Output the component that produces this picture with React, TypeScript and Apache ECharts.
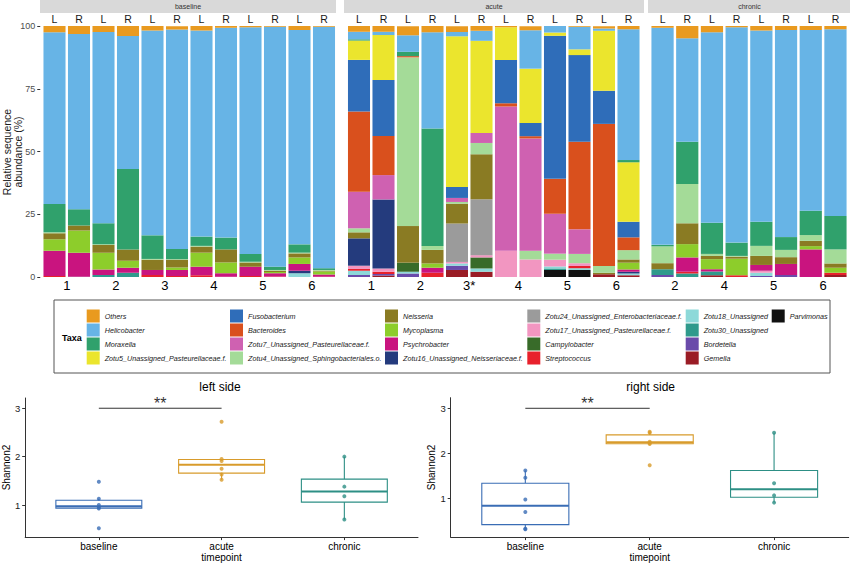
import React, { useEffect, useRef } from "react";
import * as echarts from "echarts";

// ---------------- DATA ----------------
const panelNames = ["baseline", "acute", "chronic"];
const baselineSamples = ["1L", "1R", "2L", "2R", "3L", "3R", "4L", "4R", "5L", "5R", "6L", "6R"];
const acuteSamples = ["1L", "1R", "2L", "2R", "3L", "3R", "4L", "4R", "5L", "5R", "6L", "6R"];
const chronicSamples = ["2L", "2R", "4L", "4R", "5L", "5R", "6L", "6R"];
const baselineSubjects = ["1", "2", "3", "4", "5", "6"];
const acuteSubjects = ["1", "2", "3*", "4", "5", "6"];
const chronicSubjects = ["2", "4", "5", "6"];
const abundanceTicks = [0, 25, 50, 75, 100];

const taxa = [
  "Others", "Helicobacter", "Moraxella", "Zotu5_Unassigned_Pasteurellaceae.f.",
  "Fusobacterium", "Bacteroides", "Zotu7_Unassigned_Pasteurellaceae.f.", "Zotu4_Unassigned_Sphingobacteriales.o.",
  "Neisseria", "Mycoplasma", "Psychrobacter", "Zotu16_Unassigned_Neisseriaceae.f.",
  "Zotu24_Unassigned_Enterobacteriaceae.f.", "Zotu17_Unassigned_Pasteurellaceae.f.", "Campylobacter", "Streptococcus",
  "Zotu18_Unassigned", "Zotu30_Unassigned", "Bordetella", "Gemella",
  "Parvimonas",
];
const taxaColors = [
  "#E99A1F", "#67B4E6", "#30A16C", "#EBE52D",
  "#2F6DB9", "#D9501D", "#CF61B1", "#A4DB98",
  "#8A7B23", "#8DCD2B", "#C9147F", "#243B7D",
  "#9B9B9B", "#F296C1", "#386B29", "#E8212C",
  "#8DD9D9", "#2F9A8C", "#6A4BAA", "#9A1C25",
  "#111111",
];

// per taxon: 12 baseline, 12 acute, 8 chronic samples (%)
const others = [2.5, 3.2, 2.4, 4.0, 1.8, 1.3, 1.8, 0.7, 0.5, 0.3, 1.6, 0.3, 2.3, 2.3, 3.6, 2.5, 2.3, 1.9, 0.5, 1.6, 0, 0.3, 0.9, 1.3, 0.7, 4.9, 2.5, 0.5, 1.8, 1.6, 1.6, 1.3];
const helicobacter = [68.4, 69.8, 76.2, 53.0, 81.6, 87.4, 82.1, 83.6, 90.3, 95.6, 85.4, 96.2, 3.0, 1.3, 6.6, 38.3, 1.7, 4.0, 0, 15.3, 2.6, 9.0, 0.9, 52.1, 86.5, 41.2, 75.9, 85.8, 76.2, 82.5, 72.0, 74.4];
const moraxella = [11.3, 6.5, 8.4, 32.0, 9.4, 4.1, 3.7, 4.7, 3.1, 1.3, 3.3, 0.7, 0.5, 0, 1.7, 46.8, 0, 0, 0, 0, 0, 0, 0, 0.9, 0.6, 16.8, 12.4, 5.3, 9.6, 5.1, 9.7, 13.3];
const zotu5 = [0, 0, 0, 0, 0, 0, 0, 0, 0, 0, 0, 0, 7.7, 17.9, 0, 0, 60.0, 36.7, 13.0, 21.6, 1.3, 2.3, 23.9, 23.7, 0, 0, 0, 0, 0, 0, 0, 0];
const fusobacterium = [0, 0, 0, 0, 0, 0, 0, 0, 0, 0, 0, 0, 20.6, 22.3, 0, 0, 4.4, 0, 17.3, 5.3, 57.0, 34.5, 13.2, 6.2, 0, 0, 0, 0, 0, 0, 0, 0];
const bacteroides = [0, 0, 0, 0, 0, 0, 0, 0, 0, 0, 0, 0, 31.9, 15.6, 0.5, 0, 0, 0, 1.3, 0.9, 13.9, 34.9, 56.6, 5.1, 0, 0, 0, 0, 0, 0, 0, 0];
const zotu7 = [0, 0, 0, 0, 0, 0, 0, 0, 0, 0, 0, 0, 14.6, 9.7, 0, 0, 1.6, 4.0, 57.4, 44.7, 15.9, 9.8, 0, 0, 0, 0, 0, 0, 0, 0, 0, 0];
const zotu4 = [0.4, 0, 0.3, 0, 0.3, 0.2, 0.3, 0, 0.3, 0.3, 0.3, 0.3, 1.6, 0, 67.2, 1.6, 0.7, 4.5, 0, 3.5, 2.4, 3.7, 2.7, 3.7, 6.7, 15.7, 0.8, 0.3, 4.0, 2.9, 2.3, 5.6];
const neisseria = [2.4, 2.0, 3.0, 4.5, 4.1, 3.1, 2.4, 5.2, 1.7, 0.5, 1.6, 0.3, 2.4, 0, 14.6, 5.4, 7.9, 17.9, 0, 0, 0, 0, 0.6, 1.3, 2.4, 8.3, 1.3, 0.8, 3.6, 2.7, 2.1, 1.7];
const mycoplasma = [4.5, 8.8, 6.7, 2.8, 0, 1.0, 5.6, 4.3, 0, 0.5, 2.6, 1.2, 0, 0, 0, 1.7, 0, 0, 0, 0, 0, 0, 0, 2.7, 0, 5.3, 4.0, 6.6, 0, 0, 1.3, 2.0];
const psychrobacter = [10.1, 9.6, 2.2, 2.0, 2.0, 2.4, 3.4, 1.4, 3.7, 1.3, 2.7, 0.9, 0, 0, 0, 2.0, 0, 0, 0, 0, 0, 0, 0, 0.9, 0, 5.7, 0.9, 0, 2.3, 4.4, 11.0, 0];
const zotu16 = [0, 0, 0, 0, 0, 0, 0, 0, 0, 0, 1.0, 0, 10.9, 27.5, 0, 0, 0, 0, 0, 0, 0, 0, 0, 0.7, 0, 0, 0, 0, 0, 0, 0, 0];
const zotu24 = [0, 0, 0, 0, 0, 0, 0, 0, 0, 0, 0, 0, 0, 0, 0, 0, 15.3, 22.3, 0, 0, 0, 0, 0, 0, 0, 0, 0, 0, 0, 0, 0, 0];
const zotu17 = [0, 0, 0, 0, 0, 0, 0, 0, 0, 0, 0, 0, 1.3, 1.3, 0, 0, 0.6, 0.9, 10.5, 7.0, 2.7, 1.1, 0, 0, 0, 0, 0, 0, 0.8, 0, 0, 0];
const campylobacter = [0, 0, 0, 0, 0, 0, 0, 0, 0, 0, 0, 0, 0, 0, 3.6, 0, 0, 4.4, 0, 0, 0, 0, 0, 0, 0, 0, 0, 0, 0, 0, 0, 0];
const streptococcus = [0.4, 0, 0, 0, 0.8, 0.4, 0.7, 0.1, 0.4, 0.2, 0, 0.1, 0.7, 0.9, 0, 1.7, 0, 0, 0, 0, 0, 0.9, 0, 0, 0, 0.7, 0, 0.7, 0, 0, 0, 0.9];
const zotu18 = [0, 0, 0, 0, 0, 0, 0, 0, 0, 0, 1.5, 0, 1.7, 0, 0.7, 0, 0.9, 1.3, 0, 0, 0.8, 0.7, 0, 0.7, 0, 0, 0, 0, 1.3, 0, 0, 0];
const zotu30 = [0, 0.1, 0.8, 1.7, 0, 0, 0, 0, 0, 0, 0, 0, 0, 0, 0, 0, 0, 0, 0, 0, 0.6, 0, 0, 0, 2.3, 1.4, 1.5, 0, 0, 0, 0, 0];
const bordetella = [0, 0, 0, 0, 0, 0, 0, 0, 0, 0, 0, 0, 0.8, 0.6, 1.4, 0, 1.7, 0, 0, 0, 0, 0, 0, 0, 0.8, 0, 0, 0, 0.4, 0.8, 0, 0];
const gemella = [0, 0, 0, 0, 0, 0, 0, 0, 0, 0, 0, 0, 0, 0.6, 0, 0, 2.8, 2.1, 0, 0, 0, 0, 1.1, 0.7, 0, 0, 0.7, 0, 0, 0, 0, 0.8];
const parvimonas = [0, 0, 0, 0, 0, 0, 0, 0, 0, 0, 0, 0, 0, 0, 0, 0, 0, 0, 0, 0, 2.8, 2.8, 0, 0, 0, 0, 0, 0, 0, 0, 0, 0];

const taxaValues = [
  others, helicobacter, moraxella, zotu5, fusobacterium, bacteroides, zotu7, zotu4,
  neisseria, mycoplasma, psychrobacter, zotu16, zotu24, zotu17, campylobacter, streptococcus,
  zotu18, zotu30, bordetella, gemella, parvimonas,
];

// Shannon diversity
const timepoints = ["baseline", "acute", "chronic"];
const timepointColors = ["#3A6DB5", "#D89B2B", "#2D8F85"];
const shannonTicks = [1, 2, 3];
const leftBaseline = [0.52, 0.93, 0.95, 1.0, 1.13, 1.48];
const leftAcute = [1.52, 1.63, 1.75, 1.91, 1.95, 2.72];
const leftChronic = [0.7, 1.18, 1.38, 2.0];
const rightBaseline = [0.32, 0.33, 0.7, 0.98, 1.46, 1.62];
const rightAcute = [1.74, 2.21, 2.23, 2.26, 2.46, 2.48];
const rightChronic = [0.91, 1.07, 1.34, 2.46];
const significance = [1, 2, 3]; // from, to, height
const significanceLabel = "**";

// ---------------- HELPERS ----------------
const FONT = "'Liberation Sans', Arial, Helvetica, sans-serif";

function quantile(sorted: number[], p: number) {
  const h = (sorted.length - 1) * p;
  const lo = Math.floor(h);
  const hi = Math.min(lo + 1, sorted.length - 1);
  return sorted[lo] + (h - lo) * (sorted[hi] - sorted[lo]);
}
function boxStats(vals: number[]) {
  const s = [...vals].sort((a, b) => a - b);
  const q1 = quantile(s, 0.25);
  const med = quantile(s, 0.5);
  const q3 = quantile(s, 0.75);
  const iqr = q3 - q1;
  const inside = s.filter((v) => v >= q1 - 1.5 * iqr && v <= q3 + 1.5 * iqr);
  return [Math.min(...inside), q1, med, q3, Math.max(...inside)];
}

export default function App() {
  const ref = useRef<HTMLDivElement>(null);
  useEffect(() => {
    document.body.style.margin = "0";
    const chart = echarts.init(ref.current!, null, { renderer: "svg" });

    const panelSamples = [baselineSamples, acuteSamples, chronicSamples];
    const panelSubjects = [baselineSubjects, acuteSubjects, chronicSubjects];
    const panelLayout = [
      { left: 42.25, width: 294, strip: [40, 336] },
      { left: 346.75, width: 294, strip: [344, 644] },
      { left: 650.2, width: 197.6, strip: [648, 851] },
    ];
    const barTop = 26;
    const barHeight = 251;

    const grid: any[] = [];
    const xAxis: any[] = [];
    const yAxis: any[] = [];
    const series: any[] = [];
    const graphic: any[] = [];

    let offset = 0;
    panelSamples.forEach((samples, p) => {
      const L = panelLayout[p];
      grid.push({ left: L.left, top: barTop, width: L.width, height: barHeight });
      xAxis.push({
        type: "category", gridIndex: p, position: "top", data: samples,
        axisLine: { show: false }, axisTick: { show: false },
        axisLabel: { formatter: (v: string) => v.slice(-1), fontSize: 10.5, color: "#1a1a1a", margin: 2, interval: 0, fontFamily: FONT },
      });
      xAxis.push({
        type: "category", gridIndex: p, position: "bottom", data: panelSubjects[p],
        axisLine: { show: false }, axisTick: { show: false },
        axisLabel: { fontSize: 13, color: "#000", margin: 2, interval: 0, fontFamily: FONT },
      });
      yAxis.push({
        type: "value", gridIndex: p, min: abundanceTicks[0], max: abundanceTicks[abundanceTicks.length - 1], interval: 25,
        offset: 2,
        splitLine: { show: false }, axisLine: { show: false },
        axisTick: { show: p === 0, length: 3, lineStyle: { color: "#333" } },
        axisLabel: { show: p === 0, fontSize: 9, color: "#4d4d4d", margin: 5, fontFamily: FONT },
      });
      for (let t = taxa.length - 1; t >= 0; t--) {
        series.push({
          type: "bar", name: taxa[t], xAxisIndex: p * 2, yAxisIndex: p, stack: "panel" + p,
          data: taxaValues[t].slice(offset, offset + samples.length),
          itemStyle: { color: taxaColors[t] }, barCategoryGap: "10%", silent: true,
        });
      }
      offset += samples.length;
      graphic.push({ type: "rect", shape: { x: L.strip[0], y: 0, width: L.strip[1] - L.strip[0], height: 13 }, style: { fill: "#D9D9D9" }, silent: true });
      graphic.push({
        type: "text", x: (L.strip[0] + L.strip[1]) / 2, y: 6.5,
        style: { text: panelNames[p], fontSize: 7, fill: "#333", textAlign: "center", textVerticalAlign: "middle", fontFamily: FONT },
      });
    });

    graphic.push({
      type: "text", x: 12.5, y: 152, rotation: Math.PI / 2,
      style: { text: "Relative sequence\nabundance (%)", fontSize: 10.5, lineHeight: 11, fill: "#1a1a1a", textAlign: "center", textVerticalAlign: "middle", fontFamily: FONT },
    });

    // legend
    graphic.push({ type: "rect", shape: { x: 54, y: 300, width: 776, height: 73 }, style: { fill: "none", stroke: "#555", lineWidth: 1 }, silent: true });
    graphic.push({ type: "text", x: 62, y: 338, style: { text: "Taxa", fontSize: 9, fontWeight: "bold", fill: "#000", textVerticalAlign: "middle", fontFamily: FONT } });
    const legendCols = [[0, 1, 2, 3], [4, 5, 6, 7], [8, 9, 10, 11], [12, 13, 14, 15], [16, 17, 18, 19], [20]];
    const legendLefts = [86.7, 230, 385, 527.3, 685.7, 771.7];
    const legend = legendCols.map((col, i) => ({
      left: legendLefts[i], top: 309.5, orient: "vertical", itemWidth: 13, itemHeight: 13, itemGap: 1, padding: 0,
      icon: "rect", selectedMode: false, data: col.map((k) => taxa[k]),
      textStyle: { fontSize: 7.2, fontStyle: "italic", color: "#1a1a1a", fontFamily: FONT },
    }));

    // Shannon boxplots
    const sides = [
      { title: "left side", groups: [leftBaseline, leftAcute, leftChronic], left: 22, top: 398, width: 396, height: 140, min: 0.337, max: 3.2115 },
      { title: "right side", groups: [rightBaseline, rightAcute, rightChronic], left: 450.7, top: 397.7, width: 398, height: 139.6, min: 0.146, max: 3.2345 },
    ];
    sides.forEach((s, i) => {
      const gi = 3 + i;
      grid.push({ left: s.left, top: s.top, width: s.width, height: s.height });
      xAxis.push({
        type: "value", gridIndex: gi, min: 0.4, max: 3.6,
        splitLine: { show: false },
        axisLine: { lineStyle: { color: "#333", width: 1 } },
        axisTick: { length: 3, customValues: [1, 2, 3], lineStyle: { color: "#333" } },
        axisLabel: { customValues: [1, 2, 3], formatter: (v: number) => timepoints[Math.round(v) - 1], fontSize: 10, color: "#000", margin: 4, fontFamily: FONT },
        name: "timepoint", nameLocation: "middle", nameGap: 14,
        nameTextStyle: { fontSize: 10, color: "#000", fontFamily: FONT },
      });
      yAxis.push({
        type: "value", gridIndex: gi, min: s.min, max: s.max,
        splitLine: { show: false },
        axisLine: { show: true, lineStyle: { color: "#333", width: 1 } },
        axisTick: { show: true, length: 3, customValues: shannonTicks, lineStyle: { color: "#333" } },
        axisLabel: { customValues: shannonTicks, fontSize: 9.5, color: "#1a1a1a", margin: 5, fontFamily: FONT },
        name: "Shannon2", nameLocation: "middle", nameGap: 11, nameRotate: 90,
        nameTextStyle: { fontSize: 10, color: "#000", fontFamily: FONT },
      });
      const boxData = s.groups.map((g, k) => [k + 1, ...boxStats(g)]);
      series.push({
        type: "custom", xAxisIndex: 6 + i, yAxisIndex: gi, data: boxData, silent: true, z: 2,
        renderItem: (params: any, api: any) => {
          const x = api.value(0);
          const c = timepointColors[params.dataIndex];
          const cx = api.coord([x, 0])[0];
          const yLo = api.coord([x, api.value(1)])[1];
          const yQ1 = api.coord([x, api.value(2)])[1];
          const yMed = api.coord([x, api.value(3)])[1];
          const yQ3 = api.coord([x, api.value(4)])[1];
          const yHi = api.coord([x, api.value(5)])[1];
          const xl = api.coord([x - 0.35, 0])[0];
          const xr = api.coord([x + 0.35, 0])[0];
          return {
            type: "group",
            children: [
              { type: "line", shape: { x1: cx, y1: yHi, x2: cx, y2: yQ3 }, style: { stroke: c, lineWidth: 1.1 } },
              { type: "line", shape: { x1: cx, y1: yQ1, x2: cx, y2: yLo }, style: { stroke: c, lineWidth: 1.1 } },
              { type: "rect", shape: { x: xl, y: yQ3, width: xr - xl, height: yQ1 - yQ3 }, style: { fill: "#fff", stroke: c, lineWidth: 1.1 } },
              { type: "line", shape: { x1: xl, y1: yMed, x2: xr, y2: yMed }, style: { stroke: c, lineWidth: 2 } },
            ],
          };
        },
      });
      const pts: any[] = [];
      s.groups.forEach((g, k) => g.forEach((v) => pts.push({ value: [k + 1, v], itemStyle: { color: timepointColors[k] } })));
      series.push({ type: "scatter", xAxisIndex: 6 + i, yAxisIndex: gi, data: pts, symbolSize: 4, silent: true, z: 3 });
      series.push({
        type: "custom", xAxisIndex: 6 + i, yAxisIndex: gi, data: [significance], silent: true, z: 3,
        renderItem: (params: any, api: any) => {
          const a = api.coord([api.value(0), api.value(2)]);
          const b = api.coord([api.value(1), api.value(2)]);
          return {
            type: "group",
            children: [
              { type: "line", shape: { x1: a[0], y1: a[1], x2: b[0], y2: b[1] }, style: { stroke: "#333", lineWidth: 1 } },
              { type: "text", x: (a[0] + b[0]) / 2, y: a[1] - 5, style: { text: significanceLabel, fontSize: 16, fill: "#333", textAlign: "center", textVerticalAlign: "middle", fontFamily: FONT } },
            ],
          };
        },
      });
      graphic.push({
        type: "text", x: s.left + s.width / 2 + (i === 0 ? 0 : 1), y: 387,
        style: { text: s.title, fontSize: 12, fill: "#000", textAlign: "center", textVerticalAlign: "middle", fontFamily: FONT },
      });
    });

    chart.setOption({
      animation: false,
      backgroundColor: "#fff",
      textStyle: { fontFamily: FONT },
      grid, xAxis, yAxis, series, legend, graphic,
    });
    return () => chart.dispose();
  }, []);
  return <div ref={ref} style={{ width: 850, height: 563 }} />;
}
